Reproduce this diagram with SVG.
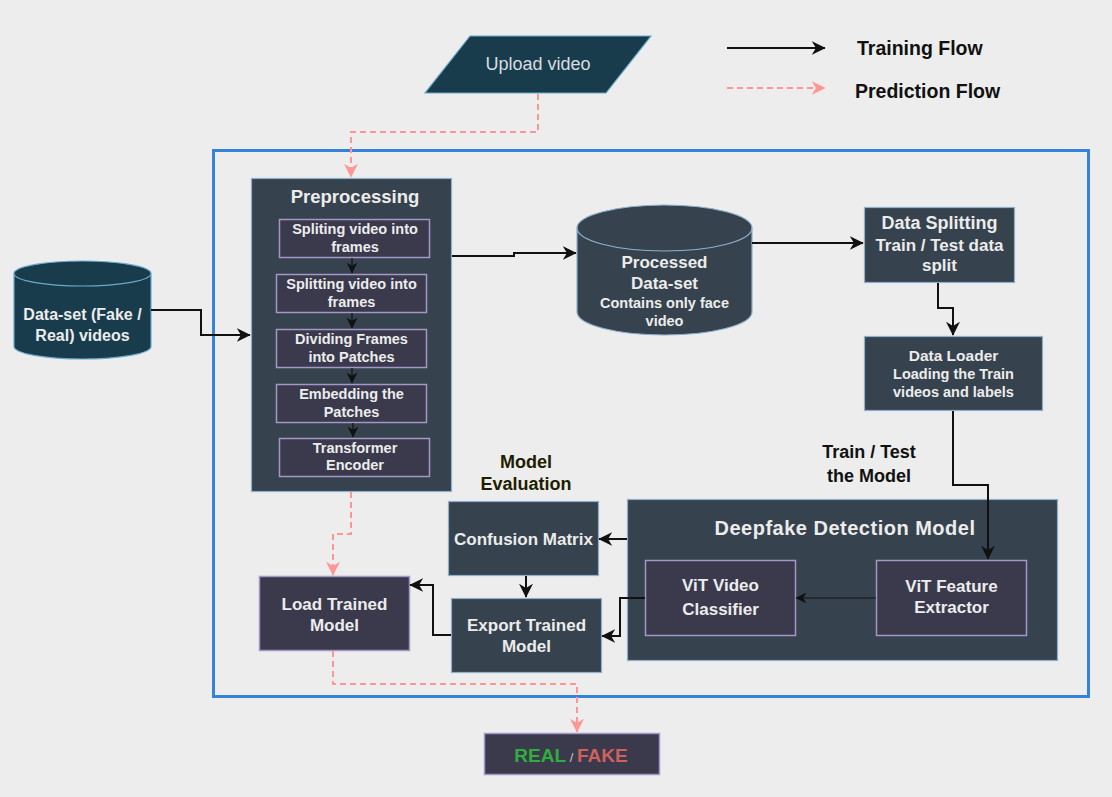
<svg xmlns="http://www.w3.org/2000/svg" width="1112" height="797" viewBox="0 0 1112 797">
<style>
text{font-family:"Liberation Sans",Arial,sans-serif;}
.slate{fill:#36434e;stroke:#8fb0cc;stroke-width:1.2;}
.purple{fill:#3a3a4c;stroke:#a397c8;stroke-width:1.5;}
.teal{fill:#193c4d;stroke:#69a9cb;stroke-width:1.2;}
.wt{fill:#ececec;font-weight:bold;text-anchor:middle;}
.wr{fill:#ececec;text-anchor:middle;}
.lbl{fill:#111;font-weight:bold;text-anchor:middle;font-size:18px;}
.blk{fill:none;stroke:#111;stroke-width:2;marker-end:url(#ah);}
.thin{fill:none;stroke:#111;stroke-width:1.2;marker-end:url(#ahs);}
.pink{fill:none;stroke:#ff9696;stroke-width:2;stroke-dasharray:6 4;marker-end:url(#ahp);}
</style>
<defs>
<marker id="ah" viewBox="0 0 10 10" refX="9.5" refY="5" markerWidth="14" markerHeight="14" markerUnits="userSpaceOnUse" orient="auto"><path d="M0,0 L10,5 L0,10 L3,5 z" fill="#111"/></marker>
<marker id="ahs" viewBox="0 0 10 10" refX="9.5" refY="5" markerWidth="11" markerHeight="11" markerUnits="userSpaceOnUse" orient="auto"><path d="M0,0 L10,5 L0,10 L3,5 z" fill="#111"/></marker>
<marker id="ahp" viewBox="0 0 10 10" refX="9.5" refY="5" markerWidth="14" markerHeight="14" markerUnits="userSpaceOnUse" orient="auto"><path d="M0,0 L10,5 L0,10 L3,5 z" fill="#ff9696"/></marker>
</defs>
<rect x="0" y="0" width="1112" height="797" fill="#ededed"/>
<rect x="213.5" y="150.5" width="875" height="546" fill="none" stroke="#3583d8" stroke-width="3"/>

<g id="legend">
<path d="M727 48 H825" class="blk"/>
<text x="857" y="55" style="font-size:19.5px;font-weight:bold;fill:#111;">Training Flow</text>
<path d="M727 88 H825" class="pink"/>
<text x="855" y="98" style="font-size:19.5px;font-weight:bold;fill:#111;">Prediction Flow</text>
</g>

<g id="upload">
<polygon points="470,36 651,36 606,93 425,93" class="teal"/>
<text x="538" y="70" class="wr" style="font-size:18px;fill:#d8dde0;">Upload video</text>
</g>

<g id="dataset">
<path d="M14 273.5 a68.5 12.5 0 0 1 137 0 V346.5 a68.5 12.5 0 0 1 -137 0 Z" class="teal"/>
<path d="M14 273.5 a68.5 12.5 0 0 0 137 0" fill="none" stroke="#69a9cb" stroke-width="1.2"/>
<text x="82.5" y="320" class="wt" style="font-size:16px;">Data-set (Fake /</text>
<text x="82.5" y="341" class="wt" style="font-size:16px;">Real) videos</text>
</g>

<g id="preprocessing">
<rect x="251.5" y="178.5" width="200" height="313" class="slate"/>
<text x="355" y="203" class="wt" style="font-size:18.5px;">Preprocessing</text>
<rect x="279.5" y="219.5" width="150" height="38" class="purple"/>
<text x="355" y="234" class="wt" style="font-size:14.5px;">Spliting video into</text>
<text x="355" y="251.5" class="wt" style="font-size:14.5px;">frames</text>
<rect x="276.5" y="274.5" width="150" height="38" class="purple"/>
<text x="351.5" y="289" class="wt" style="font-size:14.5px;">Splitting video into</text>
<text x="351.5" y="306.5" class="wt" style="font-size:14.5px;">frames</text>
<rect x="276.5" y="329.5" width="150" height="38" class="purple"/>
<text x="351.5" y="344" class="wt" style="font-size:14.5px;">Dividing Frames</text>
<text x="351.5" y="361.5" class="wt" style="font-size:14.5px;">into Patches</text>
<rect x="276.5" y="384.5" width="150" height="38" class="purple"/>
<text x="351.5" y="399" class="wt" style="font-size:14.5px;">Embedding the</text>
<text x="351.5" y="416.5" class="wt" style="font-size:14.5px;">Patches</text>
<rect x="279.5" y="438.5" width="150" height="38" class="purple"/>
<text x="355" y="453" class="wt" style="font-size:14.5px;">Transformer</text>
<text x="355" y="470" class="wt" style="font-size:14.5px;">Encoder</text>
</g>

<g id="processed">
<path d="M577 228 a87.5 23 0 0 1 175 0 V312 a87.5 23 0 0 1 -175 0 Z" class="slate"/>
<path d="M577 228 a87.5 23 0 0 0 175 0" fill="none" stroke="#8fb0cc" stroke-width="1.2"/>
<text x="664.5" y="268" class="wt" style="font-size:17px;">Processed</text>
<text x="664.5" y="289" class="wt" style="font-size:17px;">Data-set</text>
<text x="664.5" y="308" class="wr" style="font-size:14.5px;font-weight:bold;">Contains only face</text>
<text x="664.5" y="325.5" class="wr" style="font-size:14.5px;font-weight:bold;">video</text>
</g>

<g id="splitting">
<rect x="864.5" y="207.5" width="150" height="75" class="slate"/>
<text x="939.5" y="229" class="wt" style="font-size:18px;">Data Splitting</text>
<text x="939.5" y="251" class="wt" style="font-size:17px;">Train / Test data</text>
<text x="939.5" y="271" class="wt" style="font-size:17px;">split</text>
</g>

<g id="loader">
<rect x="864.5" y="336.5" width="178" height="74" class="slate"/>
<text x="953.5" y="361" class="wt" style="font-size:15.5px;">Data Loader</text>
<text x="953.5" y="379" class="wt" style="font-size:14.5px;">Loading the Train</text>
<text x="953.5" y="397" class="wt" style="font-size:14.5px;">videos and labels</text>
</g>

<g id="labels">
<text x="869" y="458" class="lbl">Train / Test</text>
<text x="869" y="482" class="lbl">the Model</text>
<text x="526" y="468" class="lbl" style="fill:#1e1e00;">Model</text>
<text x="526" y="490" class="lbl" style="fill:#1e1e00;">Evaluation</text>
</g>

<g id="deepfake">
<rect x="627.5" y="499.5" width="430" height="161" class="slate"/>
<text x="845" y="535" class="wt" style="font-size:20px;letter-spacing:0.5px;">Deepfake Detection Model</text>
</g>

<g id="classifier">
<rect x="645.5" y="560.5" width="150" height="75" class="purple"/>
<text x="720.5" y="591" class="wt" style="font-size:17px;">ViT Video</text>
<text x="720.5" y="615" class="wt" style="font-size:17px;">Classifier</text>
</g>

<g id="extractor">
<rect x="876.5" y="560.5" width="150" height="75" class="purple"/>
<text x="951.5" y="592" class="wt" style="font-size:17px;">ViT Feature</text>
<text x="951.5" y="613" class="wt" style="font-size:17px;">Extractor</text>
</g>

<g id="confusion">
<rect x="448.5" y="501.5" width="150" height="74" class="slate"/>
<text x="523.5" y="545" class="wt" style="font-size:17px;">Confusion Matrix</text>
</g>

<g id="export">
<rect x="451.5" y="598.5" width="150" height="74" class="slate"/>
<text x="526.5" y="631" class="wt" style="font-size:17px;">Export Trained</text>
<text x="526.5" y="652" class="wt" style="font-size:17px;">Model</text>
</g>

<g id="load">
<rect x="259.5" y="576.5" width="150" height="74" class="purple"/>
<text x="334.5" y="609.5" class="wt" style="font-size:17px;">Load Trained</text>
<text x="334.5" y="631" class="wt" style="font-size:17px;">Model</text>
</g>

<g id="result">
<rect x="484.5" y="733.5" width="175" height="41" class="purple"/>
<text x="571" y="762" style="font-size:19px;font-weight:bold;text-anchor:middle;"><tspan fill="#2fae3c">REAL</tspan><tspan fill="#c8c8c8" style="font-size:13px;font-weight:normal;"> / </tspan><tspan fill="#d0605c">FAKE</tspan></text>
</g>

<g id="connectors">
<path d="M151 310 H201 V335 H250" class="blk"/>
<path d="M452 256 H514 V253 H576" class="blk"/>
<path d="M752 243 H863" class="blk"/>
<path d="M938 283 V308 H953 V335" class="blk"/>
<path d="M953 411 V485 H988 V559" class="blk"/>
<path d="M876 598 H796" class="thin"/>
<path d="M627 539 H599" class="blk"/>
<path d="M645 598 H620 V636 H602" class="blk"/>
<path d="M526 576 V597" class="blk"/>
<path d="M451 635 H433 V585 H410" class="blk"/>
<path d="M352 258 V273" class="thin"/>
<path d="M352 313 V328" class="thin"/>
<path d="M352 368 V383" class="thin"/>
<path d="M353 423 V437" class="thin"/>
<path d="M538 94 V132 H351 V177" class="pink"/>
<path d="M351 492 V534 H333 V575" class="pink"/>
<path d="M333 651 V684 H577 V732" class="pink"/>
</g>
</svg>
